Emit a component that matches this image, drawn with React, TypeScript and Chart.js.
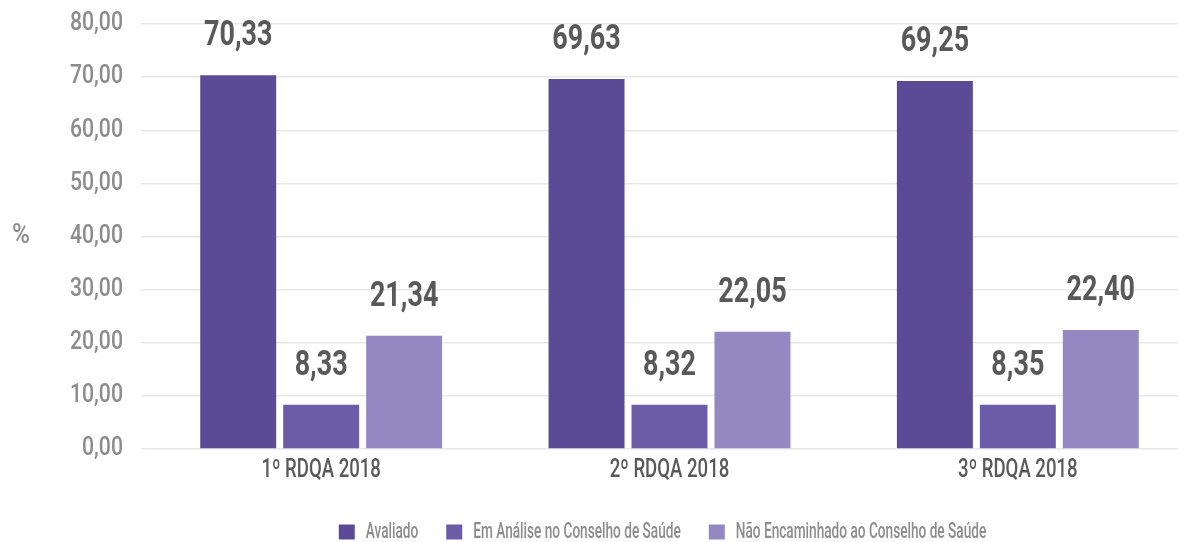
import React, { useEffect, useRef } from "react";
import { Chart, registerables } from "chart.js";

Chart.register(...registerables);

const categories = ["1º RDQA 2018", "2º RDQA 2018", "3º RDQA 2018"];
const seriesNames = ["Avaliado", "Em Análise no Conselho de Saúde", "Não Encaminhado ao Conselho de Saúde"];
const avaliado = [70.33, 69.63, 69.25];
const emAnalise = [8.33, 8.32, 8.35];
const naoEncaminhado = [21.34, 22.05, 22.4];
const colors = ["#5b4b96", "#6a5ca6", "#9388c2"];
const yAxisTitle = "%";

const FONT = "Roboto, 'Liberation Sans', sans-serif";
const fmt = (v: number) => v.toFixed(2).replace(".", ",");

// condensed look: horizontal squeeze depending on font size
const squeezeFor = (font: string) => {
  const m = /(\d+(?:\.\d+)?)px/.exec(font);
  const size = m ? Math.round(parseFloat(m[1])) : 12;
  if (size === 35) return 0.77; // value labels
  if (size === 25) return 0.85; // y ticks
  if (size === 26) return 0.715; // x labels
  if (size === 27) return 0.9; // y title
  return 0.62; // legend
};

function condenseContext(ctx: any) {
  if (ctx.__condensed) return;
  ctx.__condensed = true;
  const origFill = ctx.fillText;
  const origMeasure = ctx.measureText;
  ctx.fillText = function (t: string, x: number, y: number, mw?: number) {
    const s = squeezeFor(this.font);
    this.save();
    this.translate(x, y);
    this.scale(s, 1);
    if (mw === undefined || mw === null) origFill.call(this, t, 0, 0);
    else origFill.call(this, t, 0, 0, mw / s);
    this.restore();
  };
  ctx.measureText = function (t: string) {
    const m = origMeasure.call(this, t);
    const s = squeezeFor(this.font);
    return {
      width: m.width * s,
      actualBoundingBoxAscent: m.actualBoundingBoxAscent,
      actualBoundingBoxDescent: m.actualBoundingBoxDescent,
      actualBoundingBoxLeft: m.actualBoundingBoxLeft * s,
      actualBoundingBoxRight: m.actualBoundingBoxRight * s,
      fontBoundingBoxAscent: m.fontBoundingBoxAscent,
      fontBoundingBoxDescent: m.fontBoundingBoxDescent,
    };
  };
}

const valueLabels = {
  id: "valueLabels",
  afterDatasetsDraw(chart: any) {
    const ctx = chart.ctx;
    ctx.save();
    ctx.font = `bold 35px ${FONT}`;
    ctx.fillStyle = "#595959";
    ctx.textAlign = "center";
    ctx.textBaseline = "alphabetic";
    chart.data.datasets.forEach((ds: any, i: number) => {
      const meta = chart.getDatasetMeta(i);
      meta.data.forEach((bar: any, j: number) => {
        ctx.fillText(fmt(ds.data[j]), bar.x, bar.y - 30);
      });
    });
    ctx.restore();
  },
};

const yTitle = {
  id: "yTitle",
  afterDraw(chart: any) {
    const ctx = chart.ctx;
    ctx.save();
    ctx.font = `500 27px ${FONT}`;
    ctx.fillStyle = "#8c8c8c";
    ctx.textAlign = "center";
    ctx.textBaseline = "middle";
    ctx.fillText(yAxisTitle, 21, (chart.chartArea.top + chart.chartArea.bottom) / 2);
    ctx.restore();
  },
};

const legendShift = {
  id: "legendShift",
  afterLayout(chart: any) {
    if (chart.legend) {
      chart.legend.left -= 7;
      chart.legend.right -= 7;
    }
  },
};

export default function App() {
  const ref = useRef<HTMLCanvasElement>(null);
  useEffect(() => {
    document.documentElement.style.overflow = "hidden";
    document.body.style.overflow = "hidden";
    const canvas = ref.current!;
    condenseContext(canvas.getContext("2d"));
    const chart = new Chart(canvas, {
      type: "bar",
      data: {
        labels: categories,
        datasets: [avaliado, emAnalise, naoEncaminhado].map((d, i) => ({
          label: seriesNames[i],
          data: d,
          backgroundColor: colors[i],
          borderWidth: 0,
          categoryPercentage: 0.7145,
          barPercentage: 0.9157,
        })),
      },
      options: {
        responsive: false,
        animation: false,
        devicePixelRatio: 1,
        layout: { padding: { top: 24, left: 0, right: 0, bottom: 0 } },
        plugins: {
          legend: {
            position: "bottom",
            fullSize: false,
            labels: {
              boxWidth: 16,
              boxHeight: 15,
              padding: 28,
              color: "#8c8c8c",
              font: { family: FONT, size: 22, weight: "500" },
            },
          },
          tooltip: { enabled: false },
        },
        scales: {
          x: {
            grid: { display: false, drawTicks: false },
            border: { display: false },
            ticks: { color: "#595959", font: { family: FONT, size: 26, weight: "500" }, padding: 6 },
            afterFit: (s: any) => {
              s.height = 44;
              s.paddingLeft = 0;
              s.paddingRight = 0;
            },
          },
          y: {
            min: 0,
            max: 80,
            ticks: {
              stepSize: 10,
              color: "#8c8c8c",
              padding: 18,
              font: { family: FONT, size: 25, weight: "500" },
              callback: (v: any) => fmt(Number(v)),
            },
            grid: { color: "#e8e8e8", lineWidth: 1.5, tickLength: 6 },
            border: { display: false },
            afterFit: (s: any) => {
              s.width = 147;
              s.paddingTop = 0;
              s.paddingBottom = 0;
            },
          },
        },
      },
      plugins: [valueLabels, yTitle, legendShift],
    });
    return () => chart.destroy();
  }, []);
  return (
    <canvas
      ref={ref}
      width={1192}
      height={553}
      style={{ position: "absolute", left: 0, top: 0, width: 1192, height: 553 }}
    />
  );
}
